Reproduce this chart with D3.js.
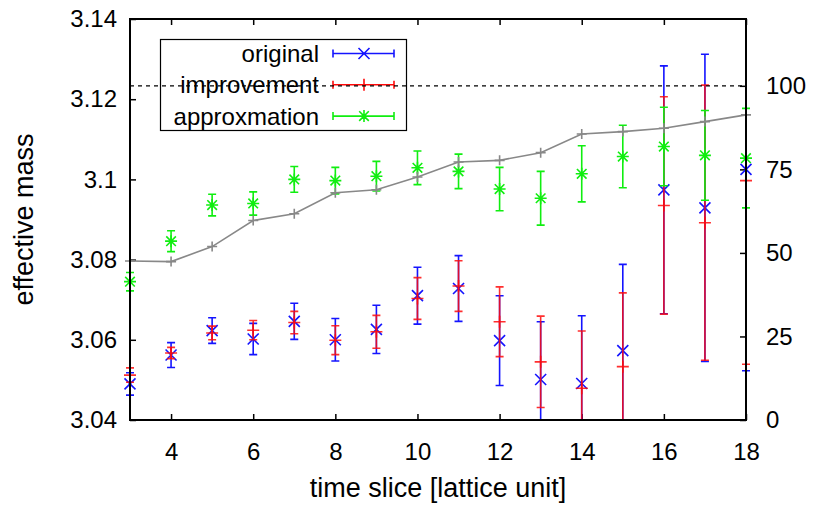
<!DOCTYPE html>
<html>
<head>
<meta charset="utf-8">
<script src="https://cdn.jsdelivr.net/npm/d3@7"></script>
<style>
  html, body { margin: 0; padding: 0; background: #fff; }
  svg { display: block; font-family: "Liberation Sans", Arial, Helvetica, sans-serif; }
</style>
</head>
<body>
<svg id="chart" width="813" height="505"></svg>
<script>
// time slices
const slices = [3, 4, 5, 6, 7, 8, 9, 10, 11, 12, 13, 14, 15, 16, 17, 18];

// effective mass, original operator
const original    = [3.0490, 3.0562, 3.0623, 3.0602, 3.0646, 3.0600, 3.0626, 3.0710,
                     3.0728, 3.0598, 3.0501, 3.0491, 3.0573, 3.0974, 3.0929, 3.1025];
const originalErr = [0.0028, 0.0031, 0.0032, 0.0039, 0.0045, 0.0053, 0.0060, 0.0071,
                     0.0082, 0.0112, 0.0144, 0.0169, 0.0215, 0.0309, 0.0383, 0.0502];

// effective mass, improved operator
const improvement    = [3.0512, 3.0567, 3.0617, 3.0624, 3.0643, 3.0599, 3.0620, 3.0703,
                        3.0734, 3.0645, 3.0545, 3.0479, 3.0533, 3.0935, 3.0892, 3.0997];
const improvementErr = [0.0018, 0.0014, 0.0017, 0.0024, 0.0028, 0.0036, 0.0041, 0.0052,
                        0.0063, 0.0087, 0.0114, 0.0143, 0.0184, 0.0271, 0.0343, 0.0458];

// effective mass, approximation
const approxmation    = [3.0745, 3.0846, 3.0936, 3.0940, 3.1000, 3.0997, 3.1008, 3.1029,
                         3.1020, 3.0976, 3.0953, 3.1014, 3.1057, 3.1082, 3.1060, 3.1053];
const approxmationErr = [0.0023, 0.0026, 0.0027, 0.0029, 0.0032, 0.0033, 0.0037, 0.0042,
                         0.0043, 0.0054, 0.0067, 0.0070, 0.0078, 0.0098, 0.0112, 0.0124];

// right-axis curve
const rightSeries = [47.6, 47.4, 51.9, 59.7, 61.7, 68.0, 68.9, 72.7,
                     77.2, 77.7, 80.0, 85.6, 86.3, 87.3, 89.3, 91.3];
const rightReference = 100;

// tick labels
const xTicks  = [4, 6, 8, 10, 12, 14, 16, 18];
const yTicks  = [3.04, 3.06, 3.08, 3.10, 3.12, 3.14];
const y2Ticks = [0, 25, 50, 75, 100];

const seriesNames = ["original", "improvement", "approxmation"];

const W = 813, H = 505;
const m = { left: 130, right: 67, top: 19, bottom: 85 };
const svg = d3.select("#chart");

const x  = d3.scaleLinear().domain([3, 18]).range([m.left, W - m.right]);
const y  = d3.scaleLinear().domain([3.04, 3.14]).range([H - m.bottom, m.top]);
const y2 = d3.scaleLinear().domain([0, 120]).range([H - m.bottom, m.top]);

const FS = 24;       // tick labels and legend
const FS_TITLE = 27; // axis titles
const tickLen = 6;

// clip vertically to the plot frame (markers on the side edges stay whole)
svg.append("defs").append("clipPath").attr("id", "plotclip")
  .append("rect")
  .attr("x", m.left - 30).attr("y", m.top)
  .attr("width", W - m.left - m.right + 60)
  .attr("height", H - m.top - m.bottom);

// axes
function styleAxis(g) {
  g.select(".domain").remove();
  g.selectAll(".tick line").attr("stroke", "#000").attr("stroke-width", 1.5);
  g.selectAll(".tick text").attr("font-size", FS).attr("fill", "#000")
    .attr("font-family", "'Liberation Sans', Arial, sans-serif");
}

svg.append("g")
  .attr("transform", `translate(0,${H - m.bottom})`)
  .call(d3.axisBottom(x).tickValues(xTicks).tickSizeInner(-tickLen).tickSizeOuter(0)
        .tickPadding(23).tickFormat(d3.format("d")))
  .call(styleAxis);

svg.append("g")
  .attr("transform", `translate(0,${m.top})`)
  .call(d3.axisTop(x).tickValues(xTicks).tickSizeInner(-tickLen).tickSizeOuter(0)
        .tickFormat(() => ""))
  .call(styleAxis);

svg.append("g")
  .attr("transform", `translate(${m.left},0)`)
  .call(d3.axisLeft(y).tickValues(yTicks).tickSizeInner(-tickLen).tickSizeOuter(0)
        .tickPadding(13).tickFormat(d => String(+d.toFixed(2))))
  .call(styleAxis);

svg.append("g")
  .attr("transform", `translate(${W - m.right},0)`)
  .call(d3.axisRight(y2).tickValues(y2Ticks).tickSizeInner(-tickLen).tickSizeOuter(0)
        .tickPadding(20).tickFormat(d3.format("d")))
  .call(styleAxis);

// axis titles
svg.append("text")
  .attr("transform", `translate(33,${(m.top + H - m.bottom) / 2}) rotate(-90)`)
  .attr("text-anchor", "middle")
  .attr("font-size", FS_TITLE).text("effective mass");

svg.append("text")
  .attr("x", (m.left + W - m.right) / 2).attr("y", 497)
  .attr("text-anchor", "middle")
  .attr("font-size", FS_TITLE).text("time slice [lattice unit]");

// point shapes
function shapeTimes(cx, cy, r) {
  const p = d3.path();
  p.moveTo(cx - r, cy - r); p.lineTo(cx + r, cy + r);
  p.moveTo(cx - r, cy + r); p.lineTo(cx + r, cy - r);
  return p.toString();
}
function shapePlus(cx, cy, r) {
  const p = d3.path();
  p.moveTo(cx - r, cy); p.lineTo(cx + r, cy);
  p.moveTo(cx, cy - r); p.lineTo(cx, cy + r);
  return p.toString();
}
function shapeStar(cx, cy, r) {
  return shapePlus(cx, cy, r) + shapeTimes(cx, cy, r * 0.8);
}
function errorBar(cx, lo, hi, cap) {
  const p = d3.path();
  p.moveTo(cx, lo); p.lineTo(cx, hi);
  p.moveTo(cx - cap, lo); p.lineTo(cx + cap, lo);
  p.moveTo(cx - cap, hi); p.lineTo(cx + cap, hi);
  return p.toString();
}

const plot = svg.append("g").attr("clip-path", "url(#plotclip)");

const series = [
  { name: seriesNames[0], vals: original,     errs: originalErr,     color: "#1414ff", op: 1,    shape: shapeTimes, r: 5.5 },
  { name: seriesNames[1], vals: improvement,  errs: improvementErr,  color: "#ff0a0a", op: 0.85, shape: shapePlus,  r: 6 },
  { name: seriesNames[2], vals: approxmation, errs: approxmationErr, color: "#10ee10", op: 1,    shape: shapeStar,  r: 6 }
];

series.forEach(s => {
  const data = slices.map((t, i) => ({ t, v: s.vals[i], e: s.errs[i] }));
  const g = plot.append("g").attr("stroke", s.color).attr("stroke-opacity", s.op)
    .attr("fill", "none").attr("stroke-width", 1.6);
  g.selectAll("path.bar").data(data).join("path").attr("class", "bar")
    .attr("d", d => errorBar(x(d.t), y(d.v - d.e), y(d.v + d.e), 4));
  g.selectAll("path.pt").data(data).join("path").attr("class", "pt")
    .attr("d", d => s.shape(x(d.t), y(d.v), s.r));
});

// right-axis curve
const rdata = slices.map((t, i) => ({ t, v: rightSeries[i] }));
plot.append("path").datum(rdata)
  .attr("fill", "none").attr("stroke", "#888").attr("stroke-width", 1.6)
  .attr("d", d3.line().x(d => x(d.t)).y(d => y2(d.v)));
plot.append("g").attr("stroke", "#888").attr("stroke-width", 1.6).attr("fill", "none")
  .selectAll("path").data(rdata).join("path")
  .attr("d", d => shapePlus(x(d.t), y2(d.v), 5));

// legend
const lg = svg.append("g");
lg.append("rect").attr("x", 160.5).attr("y", 39.5).attr("width", 246).attr("height", 91)
  .attr("fill", "none").attr("stroke", "#000").attr("stroke-width", 1.2);
series.forEach((s, i) => {
  const cy = 53.5 + i * 31.3;
  lg.append("text").attr("x", 319).attr("y", cy).attr("dy", "0.35em")
    .attr("text-anchor", "end").attr("font-size", FS).text(s.name);
  const p = d3.path();
  p.moveTo(333, cy); p.lineTo(394, cy);
  p.moveTo(333, cy - 4); p.lineTo(333, cy + 4);
  p.moveTo(394, cy - 4); p.lineTo(394, cy + 4);
  lg.append("path").attr("d", p.toString() + s.shape(364, cy, s.r))
    .attr("fill", "none").attr("stroke", s.color).attr("stroke-width", 1.6);
});

// reference level on the right axis
svg.append("line")
  .attr("x1", m.left).attr("x2", W - m.right)
  .attr("y1", y2(rightReference)).attr("y2", y2(rightReference))
  .attr("stroke", "#000").attr("stroke-width", 1.2).attr("stroke-dasharray", "4,4");

// frame
svg.append("rect")
  .attr("x", m.left).attr("y", m.top)
  .attr("width", W - m.left - m.right).attr("height", H - m.top - m.bottom)
  .attr("fill", "none").attr("stroke", "#000").attr("stroke-width", 2);
</script>
</body>
</html>
